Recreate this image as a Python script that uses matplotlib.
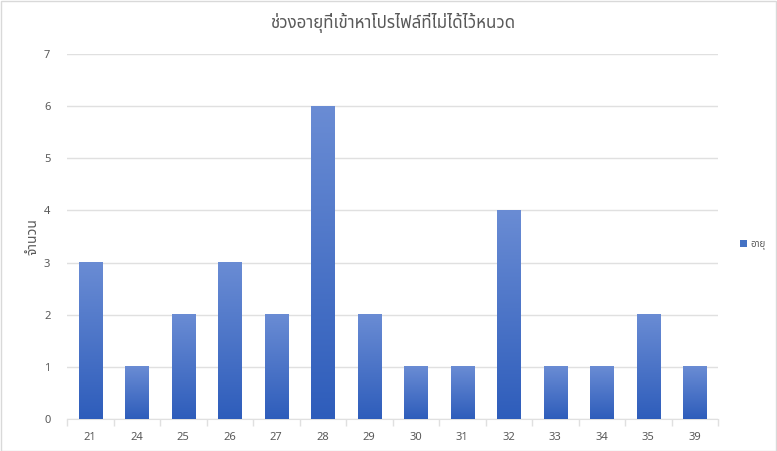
import matplotlib
matplotlib.use("Agg")
import matplotlib.pyplot as plt
from matplotlib import font_manager
from matplotlib.ft2font import FT2Font
from matplotlib.patches import Rectangle
import numpy as np

categories = ["21", "24", "25", "26", "27", "28", "29", "30", "31", "32", "33", "34", "35", "39"]
values = [3, 1, 2, 3, 2, 6, 2, 1, 1, 4, 1, 1, 2, 1]
y_ticks = [0, 1, 2, 3, 4, 5, 6, 7]
title = "ช่วงอายุที่เข้าหาโปรไฟล์ที่ไม่ได้ไว้หนวด"
ylabel = "จำนวน"
legend_label = "อายุ"

# find a font containing Thai glyphs
thai_family = None
preferred = []
for f in font_manager.fontManager.ttflist:
    try:
        ft = FT2Font(f.fname)
        cmap = ft.get_charmap()
        if 0x0E2D in cmap and 0x0E48 in cmap:
            preferred.append(f.name)
    except Exception:
        pass
for cand in ["Leelawadee UI", "Tahoma", "Noto Sans Thai", "Noto Sans Thai UI", "Sarabun", "Loma", "Garuda", "Waree", "Umpush", "Kinnari"]:
    if cand in preferred:
        thai_family = cand
        break
if thai_family is None and preferred:
    thai_family = preferred[0]
families = ([thai_family] if thai_family else []) + ["DejaVu Sans"]
plt.rcParams["font.family"] = families

text_color = "#595959"
grid_color = "#e0e0e0"

fig = plt.figure(figsize=(7.77, 4.51), dpi=100)
W, H = 777, 451
ax = fig.add_axes([67 / W, (H - 419) / H, (718 - 67) / W, (419 - 54) / H])

x = np.arange(len(categories))
bw = 0.5
top_c = np.array([0x6a, 0x8c, 0xd4]) / 255
bot_c = np.array([0x2e, 0x5d, 0xbb]) / 255
grad = np.linspace(0, 1, 256)[:, None]
cols = (bot_c[None, :] * (1 - grad) + top_c[None, :] * grad)[:, None, :]

bars = ax.bar(x, values, width=bw, color="none", edgecolor="none", zorder=3, label=legend_label)
for b in bars:
    x0, y0 = b.get_x(), b.get_y()
    w, h = b.get_width(), b.get_height()
    ax.imshow(cols, extent=[x0, x0 + w, y0, y0 + h], origin="lower", aspect="auto", zorder=3, interpolation="bilinear")

ax.set_xlim(-0.5, len(categories) - 0.5)
ax.set_ylim(0, 7)
ax.set_yticks(y_ticks)
ax.yaxis.grid(True, color=grid_color, linewidth=1)
ax.set_axisbelow(True)
ax.set_xticks(x)
ax.set_xticklabels(categories)
ax.set_xticks(np.arange(-0.5, len(categories), 1), minor=True)
ax.tick_params(axis="x", which="major", length=0, pad=9, labelsize=8, labelcolor=text_color)
ax.tick_params(axis="x", which="minor", length=5, color=grid_color, width=1)
ax.tick_params(axis="y", length=0, pad=12, labelsize=8, labelcolor=text_color)
for s in ["top", "right", "left"]:
    ax.spines[s].set_visible(False)
ax.spines["bottom"].set_color(grid_color)

fig.text((67 + 718) / 2 / W, 1 - 23 / H, title, ha="center", va="center", fontsize=12.2, color=text_color)
fig.text(33 / W, 1 - 237 / H, ylabel, ha="center", va="center", rotation=90, fontsize=10, fontweight="bold", color=text_color)

handle = Rectangle((0, 0), 1, 1, facecolor="#4472c4")
fig.legend([handle], [legend_label], loc="center left", bbox_to_anchor=(731 / W, 1 - 245 / H), frameon=False,
           fontsize=7, labelcolor=text_color, handlelength=0.7, handleheight=0.7, handletextpad=0.4)

fig.patches.append(Rectangle((0.5 / W, 0.5 / H), 1 - 1.5 / W, 1 - 1.5 / H, transform=fig.transFigure,
                             fill=False, edgecolor="#d9d9d9", linewidth=1))

fig.savefig("out.png", dpi=100)
